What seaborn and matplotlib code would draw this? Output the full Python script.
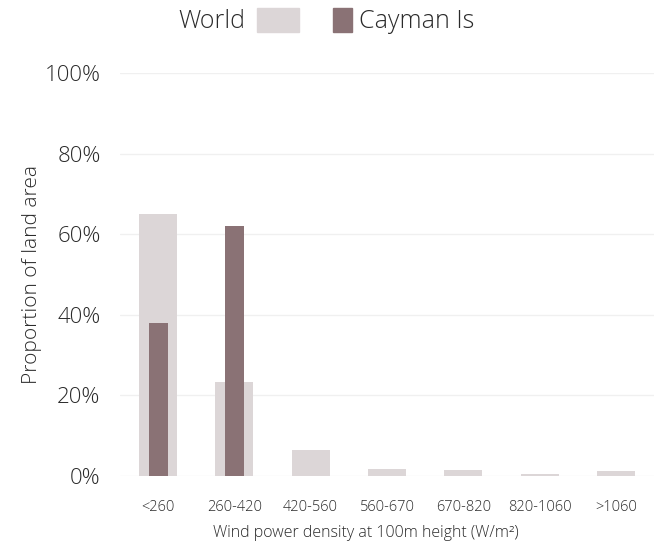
import matplotlib
matplotlib.use("Agg")
import matplotlib.pyplot as plt
from matplotlib.patches import Rectangle
import seaborn as sns
import pandas as pd

categories = ["<260", "260-420", "420-560", "560-670", "670-820", "820-1060", ">1060"]
world = [65.0, 23.3, 6.4, 1.7, 1.5, 0.6, 1.2]
cayman = [38.0, 62.0, 0, 0, 0, 0, 0]
yticks = [0, 20, 40, 60, 80, 100]
ytick_labels = ["0%", "20%", "40%", "60%", "80%", "100%"]

WORLD_C = "#dcd6d7"
CAY_C = "#8a7275"
TXT = "#2a2a2a"

sns.set_theme(style="white")
plt.rcParams["font.family"] = ["Open Sans", "DejaVu Sans"]
plt.rcParams["font.weight"] = "light"
plt.rcParams["axes.labelweight"] = "light"

df_w = pd.DataFrame({"cat": categories, "val": world})
df_c = pd.DataFrame({"cat": categories, "val": cayman})

fig = plt.figure(figsize=(6.64, 5.46), dpi=100)
ax = fig.add_axes([120/664, 1-476/546, (654-120)/664, (476-73)/546])

sns.barplot(data=df_w, x="cat", y="val", order=categories, color=WORLD_C,
            width=0.5, saturation=1, linewidth=0, ax=ax, zorder=2)
sns.barplot(data=df_c, x="cat", y="val", order=categories, color=CAY_C,
            width=0.25, saturation=1, linewidth=0, ax=ax, zorder=3)

ax.set_ylim(0, 100)
ax.set_xlim(-0.5, len(categories) - 0.5)
ax.set_yticks(yticks)
ax.set_yticklabels(ytick_labels, fontsize=16, color=TXT)
ax.tick_params(axis="x", labelsize=10.5, colors=TXT, length=0, pad=17)
ax.tick_params(axis="y", length=0, pad=14)
ax.grid(axis="y", color="#f0f0f0", linewidth=1, zorder=0)
ax.set_axisbelow(True)
for s in ax.spines.values():
    s.set_visible(False)

ax.set_xlabel("Wind power density at 100m height (W/m²)", fontsize=11.5,
              color=TXT, fontweight="light")
ax.xaxis.set_label_coords((366-120)/534, -0.122)
ax.set_ylabel("Proportion of land area", fontsize=15, color=TXT,
              fontweight="light", labelpad=2)

# legend
H = 546
fig.text(245/664, 1-21/H, "World", ha="right", va="center", fontsize=18,
         color=TXT)
fig.patches.append(Rectangle((257/664, 1-32/H), 42/664, 24/H,
                             transform=fig.transFigure, color=WORLD_C, figure=fig))
fig.patches.append(Rectangle((333/664, 1-32/H), 19/664, 24/H,
                             transform=fig.transFigure, color=CAY_C, figure=fig))
fig.text(359/664, 1-21/H, "Cayman Is", ha="left", va="center", fontsize=18,
         color=TXT)

fig.savefig("out.png", dpi=100)
